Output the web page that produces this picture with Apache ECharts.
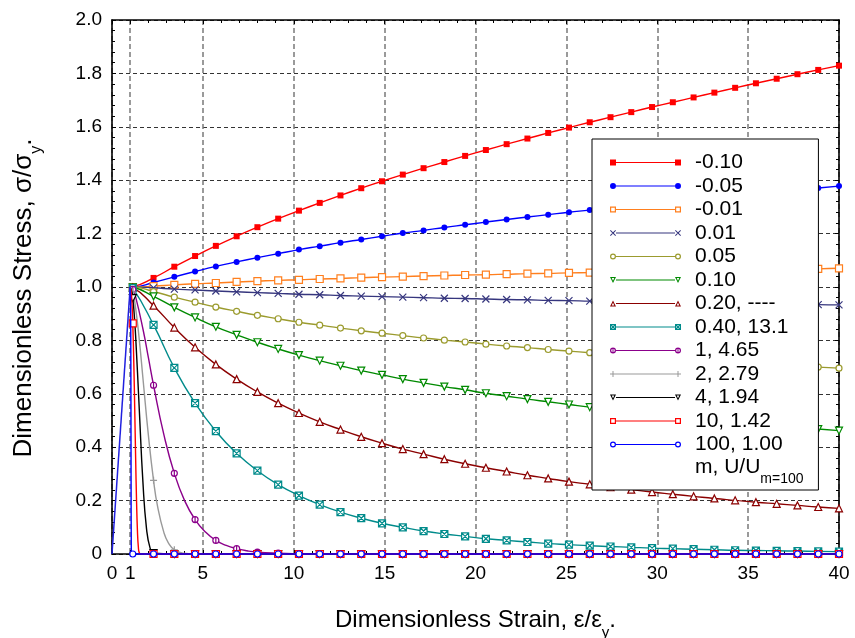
<!DOCTYPE html>
<html>
<head>
<meta charset="utf-8">
<script src="https://cdn.jsdelivr.net/npm/echarts@6/dist/echarts.min.js"></script>
<style>
html,body{margin:0;padding:0;background:#fff;}
#chart{width:855px;height:638px;}
</style>
</head>
<body>
<div id="chart"></div>
<script>
// ---------------- data ----------------
const xMarks = [1.143, 2.286, 3.429, 4.571, 5.714, 6.857, 8, 9.143, 10.286, 11.429, 12.571, 13.714, 14.857, 16, 17.143, 18.286, 19.429, 20.571, 21.714, 22.857, 24, 25.143, 26.286, 27.429, 28.571, 29.714, 30.857, 32, 33.143, 34.286, 35.429, 36.571, 37.714, 38.857, 40];
const peak = [1, 1];
const riseX = [0, 1];
const riseY = [0, 1];

const yNeg010 = [1.001, 1.034, 1.076, 1.116, 1.154, 1.190, 1.224, 1.256, 1.286, 1.315, 1.343, 1.370, 1.396, 1.421, 1.445, 1.468, 1.491, 1.513, 1.535, 1.556, 1.577, 1.597, 1.617, 1.636, 1.655, 1.674, 1.692, 1.710, 1.728, 1.746, 1.763, 1.780, 1.797, 1.813, 1.829];
const yNeg005 = [1.000, 1.017, 1.038, 1.058, 1.077, 1.094, 1.110, 1.125, 1.140, 1.153, 1.166, 1.178, 1.190, 1.202, 1.212, 1.223, 1.233, 1.243, 1.253, 1.262, 1.271, 1.280, 1.288, 1.297, 1.305, 1.313, 1.320, 1.328, 1.336, 1.343, 1.350, 1.357, 1.364, 1.371, 1.378];
const yNeg001 = [1.000, 1.003, 1.008, 1.012, 1.015, 1.019, 1.022, 1.025, 1.027, 1.030, 1.032, 1.035, 1.037, 1.039, 1.041, 1.043, 1.045, 1.046, 1.048, 1.050, 1.051, 1.053, 1.054, 1.056, 1.057, 1.059, 1.060, 1.061, 1.062, 1.064, 1.065, 1.066, 1.067, 1.068, 1.070];
const yPos001 = [1.000, 0.997, 0.992, 0.989, 0.985, 0.982, 0.979, 0.976, 0.973, 0.971, 0.968, 0.966, 0.964, 0.962, 0.960, 0.958, 0.957, 0.955, 0.953, 0.952, 0.950, 0.949, 0.947, 0.946, 0.945, 0.944, 0.942, 0.941, 0.940, 0.939, 0.938, 0.937, 0.936, 0.934, 0.933];
const yPos005 = [1.000, 0.983, 0.962, 0.943, 0.925, 0.909, 0.894, 0.881, 0.868, 0.857, 0.846, 0.836, 0.827, 0.818, 0.809, 0.801, 0.794, 0.786, 0.779, 0.773, 0.766, 0.760, 0.754, 0.748, 0.743, 0.738, 0.732, 0.727, 0.723, 0.718, 0.713, 0.709, 0.705, 0.700, 0.696];
const yPos010 = [0.999, 0.965, 0.924, 0.886, 0.851, 0.821, 0.793, 0.768, 0.745, 0.724, 0.705, 0.687, 0.671, 0.655, 0.641, 0.627, 0.615, 0.602, 0.591, 0.580, 0.570, 0.560, 0.550, 0.541, 0.532, 0.524, 0.516, 0.509, 0.501, 0.494, 0.487, 0.481, 0.474, 0.468, 0.462];
const yPos020 = [0.998, 0.930, 0.848, 0.774, 0.710, 0.655, 0.607, 0.565, 0.528, 0.495, 0.466, 0.439, 0.415, 0.393, 0.374, 0.355, 0.338, 0.323, 0.309, 0.295, 0.283, 0.271, 0.261, 0.250, 0.241, 0.232, 0.224, 0.216, 0.208, 0.201, 0.194, 0.188, 0.182, 0.176, 0.171];
const yPos040 = [0.996, 0.858, 0.697, 0.565, 0.460, 0.377, 0.312, 0.260, 0.219, 0.185, 0.157, 0.134, 0.115, 0.100, 0.086, 0.075, 0.066, 0.057, 0.051, 0.045, 0.039, 0.035, 0.031, 0.028, 0.025, 0.022, 0.020, 0.018, 0.016, 0.014, 0.013, 0.012, 0.011, 0.010, 0.009];
const yPos1   = [0.991, 0.632, 0.302, 0.129, 0.051, 0.020, 0.007, 0.003, 0.001, 0, 0, 0, 0, 0, 0, 0, 0, 0, 0, 0, 0, 0, 0, 0, 0, 0, 0, 0, 0, 0, 0, 0, 0, 0, 0];
const yPos2   = [0.981, 0.276, 0.016, 0, 0, 0, 0, 0, 0, 0, 0, 0, 0, 0, 0, 0, 0, 0, 0, 0, 0, 0, 0, 0, 0, 0, 0, 0, 0, 0, 0, 0, 0, 0, 0];
const yPos4   = [0.958, 0.003, 0, 0, 0, 0, 0, 0, 0, 0, 0, 0, 0, 0, 0, 0, 0, 0, 0, 0, 0, 0, 0, 0, 0, 0, 0, 0, 0, 0, 0, 0, 0, 0, 0];
const yPos10  = [0.864, 0, 0, 0, 0, 0, 0, 0, 0, 0, 0, 0, 0, 0, 0, 0, 0, 0, 0, 0, 0, 0, 0, 0, 0, 0, 0, 0, 0, 0, 0, 0, 0, 0, 0];
const yPos100 = [0, 0, 0, 0, 0, 0, 0, 0, 0, 0, 0, 0, 0, 0, 0, 0, 0, 0, 0, 0, 0, 0, 0, 0, 0, 0, 0, 0, 0, 0, 0, 0, 0, 0, 0];

// extra curve points (no marker) read along the steep parts
const dX1   = [1.3, 1.714, 2.0, 2.857, 4.0, 5.143, 6.286, 7.429];
const dY1   = [0.963, 0.839, 0.736, 0.446, 0.199, 0.082, 0.032, 0.012];
const dX2   = [1.3, 1.5, 1.714, 2.0, 2.5, 2.857, 3.1, 3.9];
const dY2   = [0.921, 0.803, 0.650, 0.446, 0.181, 0.080, 0.042, 0.003];
const dX4   = [1.1, 1.2, 1.3, 1.5, 1.7, 1.9, 2.1];
const dY4   = [0.980, 0.918, 0.817, 0.543, 0.271, 0.094, 0.021];
const dX10  = [1.05, 1.1, 1.2, 1.25, 1.3, 1.35, 1.4, 1.45, 1.5, 1.6];
const dY10  = [0.986, 0.938, 0.714, 0.544, 0.362, 0.200, 0.086, 0.026, 0.005, 0];
const dX100 = [1.02, 1.03, 1.04, 1.05, 1.06, 1.08];
const dY100 = [0.958, 0.859, 0.634, 0.285, 0.036, 0];

const seriesNames = ['-0.10', '-0.05', '-0.01', '0.01', '0.05', '0.10', '0.20, ----', '0.40, 13.1', '1, 4.65', '2, 2.79', '4, 1.94', '10, 1.42', '100, 1.00'];
const xTickValues = [0, 1, 5, 10, 15, 20, 25, 30, 35, 40];

// ---------------- styles ----------------
const FONT = '"Liberation Sans", Arial, Helvetica, sans-serif';
const seriesDefs = [
  { ys: yNeg010, color: '#ff0000', sym: 'fsq' },
  { ys: yNeg005, color: '#0000ff', sym: 'fci' },
  { ys: yNeg001, color: '#ff7f1e', sym: 'hsq' },
  { ys: yPos001, color: '#36367e', sym: 'x' },
  { ys: yPos005, color: '#9b9b2e', sym: 'hci' },
  { ys: yPos010, color: '#008a00', sym: 'tdn' },
  { ys: yPos020, color: '#8b0000', sym: 'tup' },
  { ys: yPos040, color: '#008b8b', sym: 'sqx' },
  { ys: yPos1,   color: '#8b008b', sym: 'cib', dx: dX1, dy: dY1 },
  { ys: yPos2,   color: '#999999', sym: 'plus', dx: dX2, dy: dY2 },
  { ys: yPos4,   color: '#000000', sym: 'tdn', dx: dX4, dy: dY4 },
  { ys: yPos10,  color: '#ff0000', sym: 'hsq', dx: dX10, dy: dY10 },
  { ys: yPos100, color: '#0000ff', sym: 'hci', dx: dX100, dy: dY100 }
];

const markerSym = {
  fsq: { symbol: 'rect', size: 6, filled: true },
  fci: { symbol: 'circle', size: 6, filled: true },
  hsq: { symbol: 'rect', size: 7, filled: false },
  x:   { symbol: 'path://M0,0L10,10M10,0L0,10', size: 7, filled: false, strokeOnly: true },
  hci: { symbol: 'circle', size: 6, filled: false },
  tdn: { symbol: 'path://M0,0L10,0L5,9Z', size: 7, filled: false },
  tup: { symbol: 'triangle', size: 7, filled: false },
  sqx: { symbol: 'path://M0,0L10,0L10,10L0,10ZM0,0L10,10M10,0L0,10', size: 7, filled: false },
  cib: { symbol: 'path://M0,5A5,5 0 1,1 10,5A5,5 0 1,1 0,5ZM5,0L5,10', size: 6, filled: false },
  plus:{ symbol: 'path://M5,0L5,10M0,5L10,5', size: 7, filled: false, strokeOnly: true }
};

const shp = {
  fsq: o => `M${o},0H${o+6}V6H${o}Z`,
  hsq: o => `M${o},0H${o+6}V6H${o}Z M${o+1.2},1.2V4.8H${o+4.8}V1.2Z`,
  fci: o => `M${o},3A3,3 0 1,1 ${o+6},3A3,3 0 1,1 ${o},3Z`,
  hci: o => `M${o},3A3,3 0 1,1 ${o+6},3A3,3 0 1,1 ${o},3Z M${o+1.2},3A1.8,1.8 0 1,0 ${o+4.8},3A1.8,1.8 0 1,0 ${o+1.2},3Z`,
  x:   o => `M${o},0.7L${o+0.7},0L${o+6},5.3L${o+5.3},6Z M${o+5.3},0L${o+6},0.7L${o+0.7},6L${o},5.3Z`,
  tdn: o => `M${o},0H${o+6}L${o+3},6Z M${o+1.7},1L${o+3},3.7L${o+4.3},1Z`,
  tup: o => `M${o+3},0L${o+6},6H${o}Z M${o+3},2.3L${o+1.7},5L${o+4.3},5Z`,
  sqx: o => `M${o},0H${o+6}V6H${o}Z M${o+1.2},1.2V4.8H${o+4.8}V1.2Z M${o},0.7L${o+0.7},0L${o+6},5.3L${o+5.3},6Z M${o+5.3},0L${o+6},0.7L${o+0.7},6L${o},5.3Z`,
  cib: o => `M${o},3A3,3 0 1,1 ${o+6},3A3,3 0 1,1 ${o},3Z M${o+1.2},3A1.8,1.8 0 1,0 ${o+4.8},3A1.8,1.8 0 1,0 ${o+1.2},3Z M${o+2.5},0H${o+3.5}V6H${o+2.5}Z`,
  plus:o => `M${o+2.5},0H${o+3.5}V6H${o+2.5}Z M${o},2.5H${o+6}V3.5H${o}Z`
};
const LINE = 'M6,2.4H65V3.6H6Z';
function legendIcon(s) { return 'path://' + shp[s](0) + ' ' + LINE + ' ' + shp[s](65); }

function buildData(ys, dx, dy) {
  const pts = xMarks.map((x, i) => ({ value: [x, ys[i]] }));
  if (dx) dx.forEach((x, i) => pts.push({ value: [x, dy[i]], symbol: 'none' }));
  pts.sort((a, b) => a.value[0] - b.value[0]);
  return [{ value: peak.slice(), symbol: 'none' }].concat(pts);
}

const series = seriesDefs.map((d, i) => {
  const m = markerSym[d.sym];
  return {
    name: seriesNames[i],
    type: 'line',
    xAxisIndex: 0, yAxisIndex: 0,
    data: buildData(d.ys, d.dx, d.dy),
    smooth: 0.5,
    clip: false,
    symbol: m.symbol,
    symbolSize: m.size,
    showSymbol: true,
    lineStyle: { color: d.color, width: 1.4 },
    itemStyle: m.filled ? { color: d.color, borderWidth: 0 }
                        : { color: m.strokeOnly ? d.color : '#ffffff', borderColor: d.color, borderWidth: 1.2 },
    emphasis: { disabled: true },
    silent: true,
    z: 2 + i * 0.01
  };
});
series.push({
  name: 'rise', type: 'line', xAxisIndex: 0, yAxisIndex: 0,
  data: riseX.map((x, i) => [x, riseY[i]]),
  symbol: 'none', clip: false,
  lineStyle: { color: '#2020e0', width: 1.5 },
  emphasis: { disabled: true }, silent: true, z: 3
});

const legendData = seriesDefs.map((d, i) => ({
  name: seriesNames[i],
  icon: legendIcon(d.sym),
  itemStyle: { color: d.color, borderWidth: 0, borderColor: d.color }
}));

const axisBase = {
  axisLine: { show: true, onZero: false, lineStyle: { color: '#000', width: 1.6 } },
  axisTick: { show: true, inside: true, length: 4, lineStyle: { color: '#000', width: 1 } },
  minorTick: { show: true, length: 3, lineStyle: { color: '#000', width: 1 } }
};

const chart = echarts.init(document.getElementById('chart'), null, { renderer: 'canvas' });
chart.setOption({
  animation: false,
  backgroundColor: '#fff',
  grid: { left: 112, right: 16, top: 20, bottom: 84, containLabel: false, outerBoundsMode: 'none' },
  xAxis: [
    Object.assign({}, axisBase, {
      type: 'value', position: 'bottom', min: 0, max: 40, interval: 5,
      axisTick: Object.assign({}, axisBase.axisTick, { customValues: xTickValues }),
      minorTick: Object.assign({}, axisBase.minorTick, { splitNumber: 5 }),
      axisLabel: { customValues: xTickValues, formatter: v => String(v), margin: 10,
                   fontSize: 19, fontFamily: FONT, color: '#000' },
      splitLine: { show: true, lineStyle: { color: '#7a7a7a', width: 1.5, type: [5, 3] } },
      name: '{a|Dimensionless Strain, ε/ε}{s|y}{a|.}',
      nameLocation: 'middle', nameGap: 62,
      nameTextStyle: { fontFamily: FONT, color: '#000',
        rich: { a: { fontSize: 24, lineHeight: 24, padding: [0, 0, 8, 0], verticalAlign: 'bottom', fontFamily: FONT },
                s: { fontSize: 15, lineHeight: 15, verticalAlign: 'bottom', fontFamily: FONT } } }
    }),
    Object.assign({}, axisBase, {
      type: 'value', position: 'top', min: 0, max: 40, interval: 5,
      axisTick: Object.assign({}, axisBase.axisTick, { customValues: xTickValues }),
      minorTick: Object.assign({}, axisBase.minorTick, { splitNumber: 5 }),
      axisLabel: { show: false }, splitLine: { show: false }
    })
  ],
  yAxis: [
    Object.assign({}, axisBase, {
      type: 'value', position: 'left', min: 0, max: 2, interval: 0.2,
      minorTick: Object.assign({}, axisBase.minorTick, { splitNumber: 5 }),
      axisLabel: { formatter: v => (v === 0 ? '0' : v.toFixed(1)), margin: 10,
                   fontSize: 19, fontFamily: FONT, color: '#000' },
      splitLine: { show: true, lineStyle: { color: '#333', width: 1, type: [4, 3] } },
      name: '{a|Dimensionless Stress, σ/σ}{s|y}{b|.}',
      nameLocation: 'middle', nameGap: 67, nameRotate: 90,
      nameTextStyle: { fontFamily: FONT, color: '#000',
        rich: { a: { fontSize: 26, lineHeight: 26, padding: [0, 0, 8, 0], verticalAlign: 'bottom', fontFamily: FONT },
                b: { fontSize: 26, lineHeight: 26, padding: [0, 22, 8, 0], verticalAlign: 'bottom', fontFamily: FONT },
                s: { fontSize: 16, lineHeight: 16, verticalAlign: 'bottom', fontFamily: FONT } } }
    }),
    Object.assign({}, axisBase, {
      type: 'value', position: 'right', min: 0, max: 2, interval: 0.2,
      minorTick: Object.assign({}, axisBase.minorTick, { splitNumber: 5 }),
      axisLabel: { show: false }, splitLine: { show: false }
    })
  ],
  legend: {
    show: true, orient: 'vertical', left: 592, top: 139,
    data: legendData,
    itemWidth: 71, itemHeight: 6, itemGap: 2.5,
    padding: [13, 30, 35, 18],
    backgroundColor: '#fff', borderColor: '#000', borderWidth: 1,
    selectedMode: false,
    textStyle: { fontSize: 21, lineHeight: 21, fontFamily: FONT, color: '#000', padding: [0, 0, 0, 9] }
  },
  graphic: [{
    type: 'text', x: 695, y: 476, z: 100,
    style: {
      text: '{a|m, U/U}{s|m=100}',
      verticalAlign: 'middle',
      fill: '#000',
      rich: { a: { fontSize: 21, lineHeight: 21, padding: [0, 0, 9, 0], verticalAlign: 'bottom', fontFamily: FONT, fill: '#000' },
              s: { fontSize: 14, lineHeight: 14, verticalAlign: 'bottom', fontFamily: FONT, fill: '#000' } }
    }
  }],
  series: series
});
</script>
</body>
</html>
